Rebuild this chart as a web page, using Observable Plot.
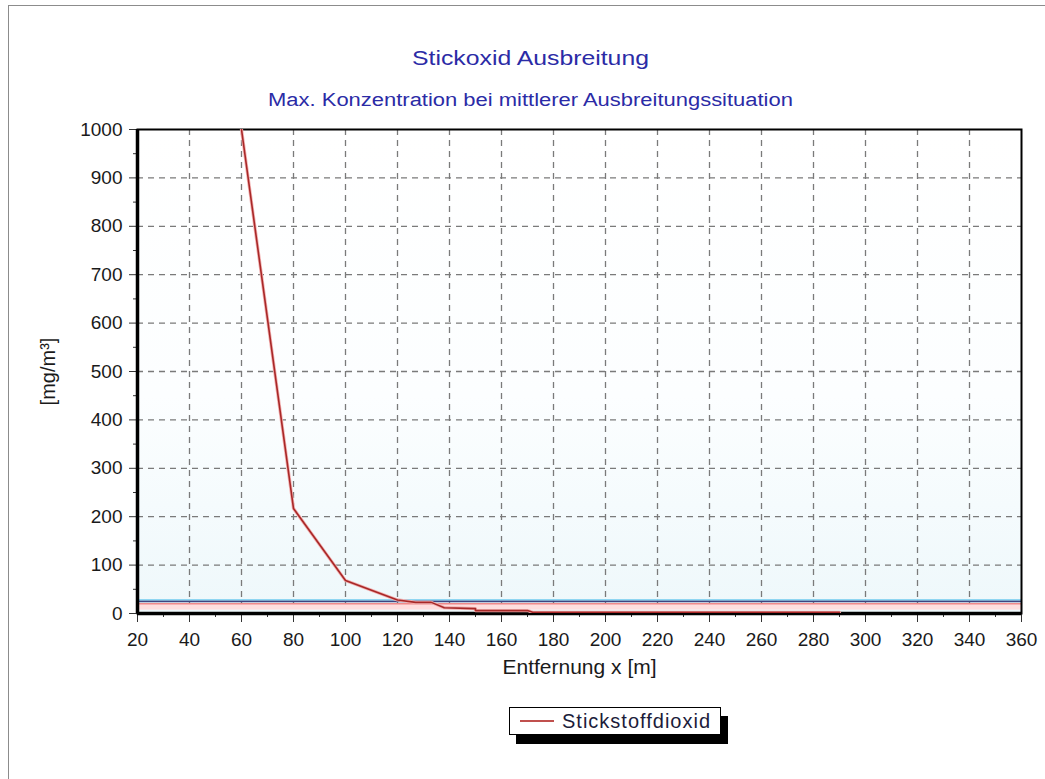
<!DOCTYPE html>
<html><head><meta charset="utf-8">
<script src="https://cdn.jsdelivr.net/npm/d3@7"></script>
<script src="https://cdn.jsdelivr.net/npm/@observablehq/plot@0.6"></script>
<style>
body{margin:0;background:#fff;font-family:"Liberation Sans",Arial,sans-serif;}
#wrap{position:relative;width:1045px;height:779px;overflow:hidden;background:#fff;}
#border{position:absolute;left:8px;top:5px;width:1100px;height:900px;border:1px solid #8c8c8c;}
.t{position:absolute;left:8px;width:1045px;text-align:center;color:#2b2ba6;white-space:nowrap;}
#title{top:46px;font-size:21px;transform:scaleX(1.18);}
#sub{top:90px;font-size:18px;transform:scaleX(1.22);}
#chart{position:absolute;left:0;top:0;}
#legend{position:absolute;left:509px;top:707px;width:210px;height:26px;border:1px solid #000;background:#fff;box-shadow:7px 9px 0 #000;display:flex;align-items:center;}
#legend svg{margin-left:10px;}
#legend span{margin-left:8px;font-size:20px;color:#1c1c3a;letter-spacing:1px;}
</style></head>
<body>
<div id="wrap">
<div id="border"></div>
<div id="title" class="t">Stickoxid Ausbreitung</div>
<div id="sub" class="t">Max. Konzentration bei mittlerer Ausbreitungssituation</div>
<div id="chart"></div>
<div id="legend"><svg width="34" height="4"><line x1="0" y1="2" x2="34" y2="2" stroke="#c0504d" stroke-width="2"/></svg><span>Stickstoffdioxid</span></div>
</div>
<script>
// data
const distance = [60, 80, 100, 120, 127, 133, 138, 150, 150, 170, 172, 290];
const no2 = [1000, 217, 68, 28, 23, 23, 12, 10, 6, 6, 2.5, 2.5];
const xTicks = [20, 40, 60, 80, 100, 120, 140, 160, 180, 200, 220, 240, 260, 280, 300, 320, 340, 360];
const xMinor = [30, 50, 70, 90, 110, 130, 150, 170, 190, 210, 230, 250, 270, 290, 310, 330, 350];
const yTicks = [0, 100, 200, 300, 400, 500, 600, 700, 800, 900, 1000];
const yMinor = [50, 150, 250, 350, 450, 550, 650, 750, 850, 950];
const limitLightBlue = [28.5];
const limitNavy = [25.5];
const limitPink = [20];
const pinkBand = [{lo: 7, hi: 20}];

const series = distance.map((d, i) => ({x: d, y: no2[i]}));
const fs = 19;

const plot = Plot.plot({
  width: 1045,
  height: 700,
  marginTop: 129,
  marginBottom: 87,
  marginLeft: 137,
  marginRight: 24,
  style: {fontFamily: '"Liberation Sans", Arial, sans-serif', fontSize: fs + "px", color: "#1a1a1a", background: "transparent"},
  x: {domain: [20, 360]},
  y: {domain: [0, 1000]},
  marks: [
    Plot.frame({fill: "url(#bg)", stroke: "none"}),
    Plot.gridX(xTicks.slice(1, -1), {stroke: "#7a7a7a", strokeOpacity: 1, strokeDasharray: "6,5", strokeWidth: 1.3}),
    Plot.gridY(yTicks.slice(1, -1), {stroke: "#7a7a7a", strokeOpacity: 1, strokeDasharray: "6,5", strokeWidth: 1.3}),
    Plot.rect(pinkBand, {y1: "lo", y2: "hi", fill: "#ffdede"}),
    Plot.ruleY(limitPink, {stroke: "#f08a8a", strokeWidth: 1.5}),
    Plot.ruleY(limitNavy, {stroke: "#3f4480", strokeWidth: 2}),
    Plot.ruleY(limitLightBlue, {stroke: "#8fd6f2", strokeWidth: 1.5}),
    Plot.axisX({ticks: xTicks, tickSize: 9, tickPadding: 10, fontSize: fs, label: null, stroke: "#333"}),
    Plot.axisX({ticks: xMinor, tickSize: 4, tickFormat: () => "", label: null, stroke: "#333"}),
    Plot.axisY({ticks: yTicks, tickSize: 8, tickPadding: 7, fontSize: fs, label: null, stroke: "#333", tickFormat: d3.format("d")}),
    Plot.axisY({ticks: yMinor, tickSize: 4, tickFormat: () => "", label: null, stroke: "#333"}),
    Plot.frame({stroke: "#000", strokeWidth: 2}),
    Plot.ruleY([0], {stroke: "#000", strokeWidth: 3.5}),
    Plot.ruleX([20], {stroke: "#000", strokeWidth: 3.5}),
    Plot.line(series, {x: "x", y: "y", stroke: "#f2b0b0", strokeWidth: 3.2, clip: true}),
    Plot.line(series, {x: "x", y: "y", stroke: "#a82828", strokeWidth: 1.6, clip: true}),
    Plot.text(["Entfernung x [m]"], {frameAnchor: "bottom", lineAnchor: "middle", dy: 54, fontSize: 21, fill: "#1a1a1a"}),
    Plot.text(["[mg/m³]"], {frameAnchor: "left", textAnchor: "middle", rotate: -90, dx: -89, fontSize: 20, fill: "#1a1a1a"})
  ]
});

const svg = d3.select(plot);
const defs = svg.insert("defs", ":first-child");
const g = defs.append("linearGradient").attr("id", "bg").attr("x1", 0).attr("y1", 0).attr("x2", 0).attr("y2", 1);
g.append("stop").attr("offset", "0%").attr("stop-color", "#ffffff");
g.append("stop").attr("offset", "55%").attr("stop-color", "#fcfeff");
g.append("stop").attr("offset", "100%").attr("stop-color", "#eef8fb");
document.getElementById("chart").appendChild(plot);
</script>
</body></html>
